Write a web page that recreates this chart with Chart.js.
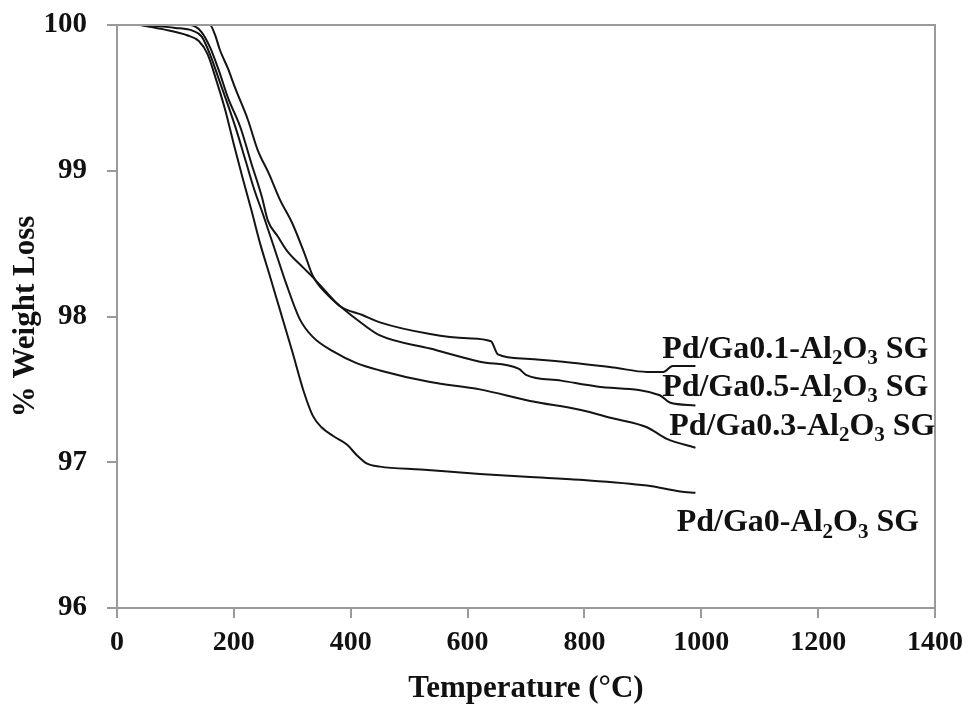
<!DOCTYPE html>
<html>
<head>
<meta charset="utf-8">
<script src="https://cdn.jsdelivr.net/npm/chart.js@4.4.0/dist/chart.umd.min.js"></script>
<style>
  html, body { margin: 0; padding: 0; background: #ffffff; }
  #wrap { width: 972px; height: 720px; }
</style>
</head>
<body>
<div id="wrap"><canvas id="c" width="972" height="720"></canvas></div>
<script>
// ---------- data ----------
const xTickValues = [0, 200, 400, 600, 800, 1000, 1200, 1400];
const yTickValues = [96, 97, 98, 99, 100];

const xTitle = 'Temperature (°C)';
const yTitle = '% Weight Loss';

const seriesNames = ['Pd/Ga0-Al_2O_3 SG', 'Pd/Ga0.1-Al_2O_3 SG', 'Pd/Ga0.3-Al_2O_3 SG', 'Pd/Ga0.5-Al_2O_3 SG'];

const tempGa0 = [40, 80, 120, 140, 155, 170, 185, 200, 215, 230, 245, 260, 280, 300, 320, 335, 350, 370, 394, 410, 428, 450, 520, 621, 700, 792, 907, 964, 990];
const wlGa0   = [100, 99.97, 99.93, 99.89, 99.8, 99.62, 99.42, 99.18, 98.95, 98.73, 98.5, 98.3, 98.03, 97.76, 97.48, 97.32, 97.24, 97.18, 97.12, 97.05, 96.99, 96.97, 96.95, 96.92, 96.9, 96.88, 96.84, 96.8, 96.79];

const tempGa01 = [40, 125, 145, 160, 175, 190, 211, 230, 248, 258, 275, 291, 320, 335, 360, 382, 420, 450, 536, 600, 640, 652, 700, 763, 850, 907, 935, 951, 990];
const wlGa01   = [100, 100, 99.95, 99.84, 99.68, 99.5, 99.3, 99.05, 98.82, 98.66, 98.55, 98.45, 98.33, 98.27, 98.16, 98.07, 98.01, 97.96, 97.88, 97.85, 97.83, 97.74, 97.71, 97.69, 97.65, 97.62, 97.62, 97.66, 97.66];

const tempGa03 = [40, 100, 130, 145, 160, 175, 190, 205, 220, 235, 250, 270, 290, 313, 335, 370, 410, 450, 536, 621, 707, 792, 850, 907, 941, 990];
const wlGa03   = [100, 99.98, 99.96, 99.92, 99.79, 99.62, 99.45, 99.27, 99.07, 98.87, 98.7, 98.46, 98.22, 97.98, 97.86, 97.76, 97.68, 97.63, 97.55, 97.5, 97.42, 97.36, 97.3, 97.24, 97.16, 97.1];

const tempGa05 = [40, 159, 168, 176, 190, 202, 224, 241, 260, 279, 300, 322, 335, 360, 382, 420, 450, 536, 621, 688, 700, 760, 821, 929, 946, 990];
const wlGa05   = [100, 100, 99.93, 99.83, 99.7, 99.57, 99.35, 99.14, 98.98, 98.8, 98.64, 98.42, 98.28, 98.15, 98.07, 97.95, 97.87, 97.78, 97.69, 97.64, 97.6, 97.56, 97.52, 97.46, 97.41, 97.39];

// label anchors (data coordinates: left edge, vertical centre)
const labelTemp = [958, 933, 945, 933];
const labelWL   = [96.6, 97.79, 97.26, 97.53];

// ---------- build ----------
const FONT = "'Liberation Serif', 'Times New Roman', serif";
function pts(t, w) { return t.map((v, i) => ({ x: v, y: w[i] })); }
const allT = [tempGa0, tempGa01, tempGa03, tempGa05];
const allW = [wlGa0, wlGa01, wlGa03, wlGa05];

const datasets = allT.map((t, i) => ({
  label: seriesNames[i].replace(/_/g, ''),
  data: pts(t, allW[i]),
  showLine: true,
  borderColor: '#141414',
  borderWidth: 2,
  pointRadius: 0,
  cubicInterpolationMode: 'monotone',
  fill: false
}));

const frame = {
  id: 'frame',
  afterDraw(chart) {
    const { ctx, chartArea: a } = chart;
    ctx.save();
    ctx.strokeStyle = '#9a9a9a';
    ctx.lineWidth = 2;
    ctx.beginPath();
    ctx.moveTo(a.left, a.top);
    ctx.lineTo(a.right, a.top);
    ctx.lineTo(a.right, a.bottom);
    ctx.stroke();
    ctx.restore();
  }
};

const seriesLabels = {
  id: 'seriesLabels',
  afterDraw(chart) {
    const { ctx, scales } = chart;
    const size = 32, sub = 21;
    ctx.save();
    ctx.fillStyle = '#111';
    ctx.textBaseline = 'alphabetic';
    ctx.textAlign = 'left';
    seriesNames.forEach((name, i) => {
      let x = scales.x.getPixelForValue(labelTemp[i]);
      const yc = scales.y.getPixelForValue(labelWL[i]);
      const base = yc + size * 0.33;
      const parts = name.split(/(_\d)/).filter(s => s.length);
      parts.forEach(p => {
        if (p[0] === '_') {
          ctx.font = 'bold ' + sub + 'px ' + FONT;
          ctx.fillText(p.slice(1), x, base + size * 0.2);
          x += ctx.measureText(p.slice(1)).width;
        } else {
          ctx.font = 'bold ' + size + 'px ' + FONT;
          ctx.fillText(p, x, base);
          x += ctx.measureText(p).width;
        }
      });
    });
    ctx.restore();
  }
};

new Chart(document.getElementById('c'), {
  type: 'scatter',
  data: { datasets },
  options: {
    responsive: false,
    devicePixelRatio: 1,
    animation: false,
    layout: { padding: { top: 25, right: 37, left: 0, bottom: 0 } },
    plugins: { legend: { display: false }, tooltip: { enabled: false } },
    scales: {
      x: {
        type: 'linear',
        min: xTickValues[0],
        max: xTickValues[xTickValues.length - 1],
        afterBuildTicks(scale) { scale.ticks = xTickValues.map(v => ({ value: v })); },
        afterFit(scale) { scale.height = 112; scale.paddingLeft = 0; scale.paddingRight = 0; },
        grid: { display: true, drawOnChartArea: false, drawTicks: true, tickLength: 10, color: '#9a9a9a', lineWidth: 2 },
        border: { display: true, color: '#9a9a9a', width: 2 },
        ticks: { color: '#111', padding: 8, maxRotation: 0, autoSkip: false, callback: v => String(v), font: { family: FONT, size: 28, weight: 'bold' } },
        title: { display: true, text: xTitle, color: '#111', padding: { top: 0, bottom: 12 }, font: { family: FONT, size: 31, weight: 'bold' } }
      },
      y: {
        type: 'linear',
        min: yTickValues[0],
        max: yTickValues[yTickValues.length - 1],
        afterBuildTicks(scale) { scale.ticks = yTickValues.map(v => ({ value: v })); },
        afterFit(scale) { scale.width = 117; scale.paddingTop = 0; scale.paddingBottom = 0; },
        grid: { display: true, drawOnChartArea: false, drawTicks: true, tickLength: 10, color: '#9a9a9a', lineWidth: 2 },
        border: { display: true, color: '#9a9a9a', width: 2 },
        ticks: { color: '#111', padding: 20, autoSkip: false, callback: v => String(v), font: { family: FONT, size: 29, weight: 'bold' } },
        title: { display: true, text: yTitle, color: '#111', padding: { top: 7, bottom: 0 }, font: { family: FONT, size: 31, weight: 'bold' } }
      }
    }
  },
  plugins: [frame, seriesLabels]
});
</script>
</body>
</html>
